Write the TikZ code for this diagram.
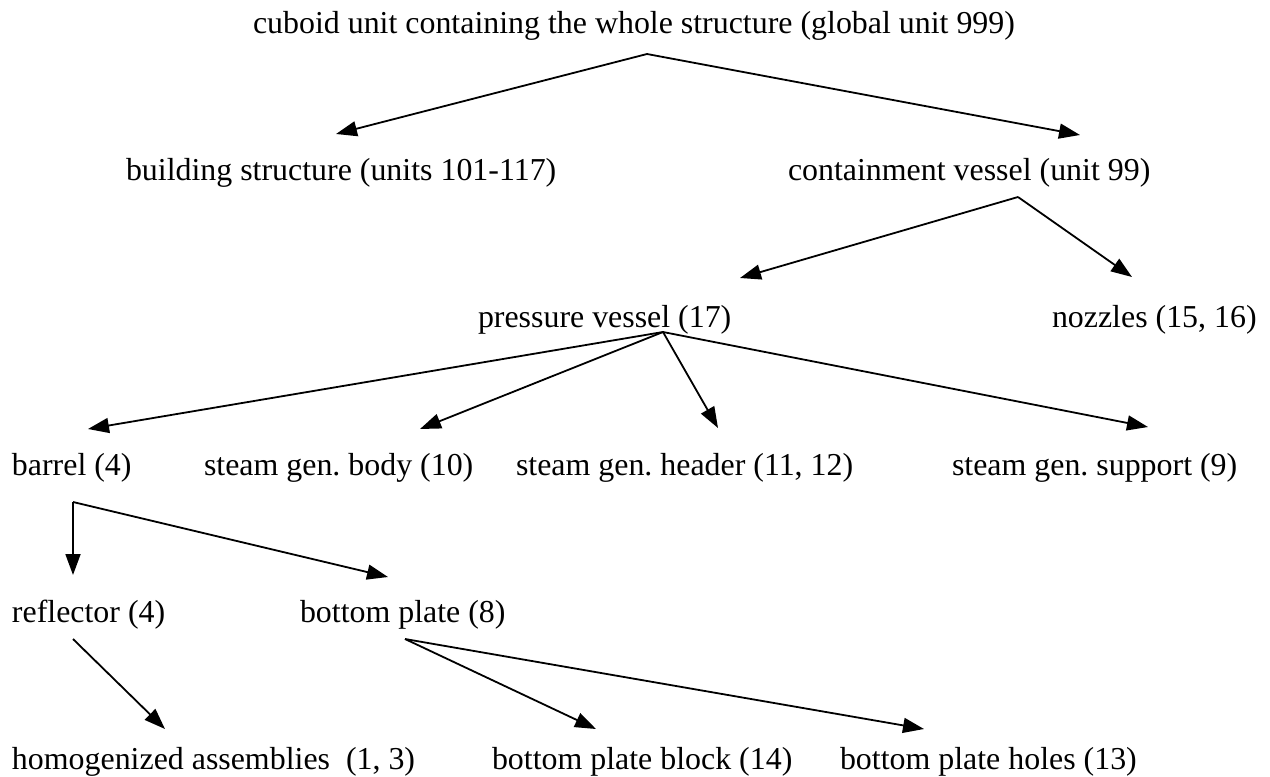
\documentclass[tikz,border=0pt]{standalone}
\usepackage{fontspec}
\setmainfont{Liberation Serif}
\usetikzlibrary{arrows.meta}
\frenchspacing
\begin{document}
\begin{tikzpicture}[x=1pt,y=-1pt,
  lbl/.style={anchor=base west,inner sep=0pt,outer sep=0pt,font=\fontsize{31.9}{38}\selectfont},
  link/.style={line width=1.8pt,-{Triangle[length=21pt,width=15pt]}}]
\useasboundingbox (0,0) rectangle (1270,777);
% nodes
\node[lbl] (top)   at (253,33)  {cuboid unit containing the whole structure (global unit 999)};
\node[lbl] (build) at (126,180) {building structure (units 101-117)};
\node[lbl] (cont)  at (788,180) {containment vessel (unit 99)};
\node[lbl] (pv)    at (478,327) {pressure vessel (17)};
\node[lbl] (noz)   at (1052,327) {nozzles (15, 16)};
\node[lbl] (barrel) at (12,475) {barrel (4)};
\node[lbl] (body)  at (204,475) {steam gen.\ body (10)};
\node[lbl] (head)  at (516,475) {steam gen.\ header (11, 12)};
\node[lbl] (supp)  at (952,475) {steam gen.\ support (9)};
\node[lbl] (refl)  at (12,622)  {reflector (4)};
\node[lbl] (bp)    at (300,622) {bottom plate (8)};
\node[lbl] (homog) at (12,769)  {homogenized assemblies\ \ (1, 3)};
\node[lbl] (block) at (492,769) {bottom plate block (14)};
\node[lbl] (holes) at (840,769) {bottom plate holes (13)};
% connector end points
\coordinate (top-o)   at (647,54);
\coordinate (build-i) at (336,134);
\coordinate (cont-i)  at (1080,135);
\coordinate (cont-o)  at (1018,197);
\coordinate (pv-i)    at (740,278);
\coordinate (noz-i)   at (1132,277);
\coordinate (pv-o)    at (663,332);
\coordinate (barrel-i) at (88,429);
\coordinate (body-i)  at (420,429);
\coordinate (head-i)  at (718,428);
\coordinate (supp-i)  at (1148,427);
\coordinate (barrel-o) at (73,502);
\coordinate (refl-i)  at (73,575);
\coordinate (bp-i)    at (388,577);
\coordinate (refl-o)  at (73,639);
\coordinate (homog-i) at (165,729);
\coordinate (bp-o)    at (405,639);
\coordinate (block-i) at (596,729);
\coordinate (holes-i) at (924,729);
% connectors
\draw[link] (top-o) -- (build-i);
\draw[link] (top-o) -- (cont-i);
\draw[link] (cont-o) -- (pv-i);
\draw[link] (cont-o) -- (noz-i);
\draw[link] (pv-o) -- (barrel-i);
\draw[link] (pv-o) -- (body-i);
\draw[link] (pv-o) -- (head-i);
\draw[link] (pv-o) -- (supp-i);
\draw[link] (barrel-o) -- (refl-i);
\draw[link] (barrel-o) -- (bp-i);
\draw[link] (refl-o) -- (homog-i);
\draw[link] (bp-o) -- (block-i);
\draw[link] (bp-o) -- (holes-i);
\end{tikzpicture}
\end{document}
